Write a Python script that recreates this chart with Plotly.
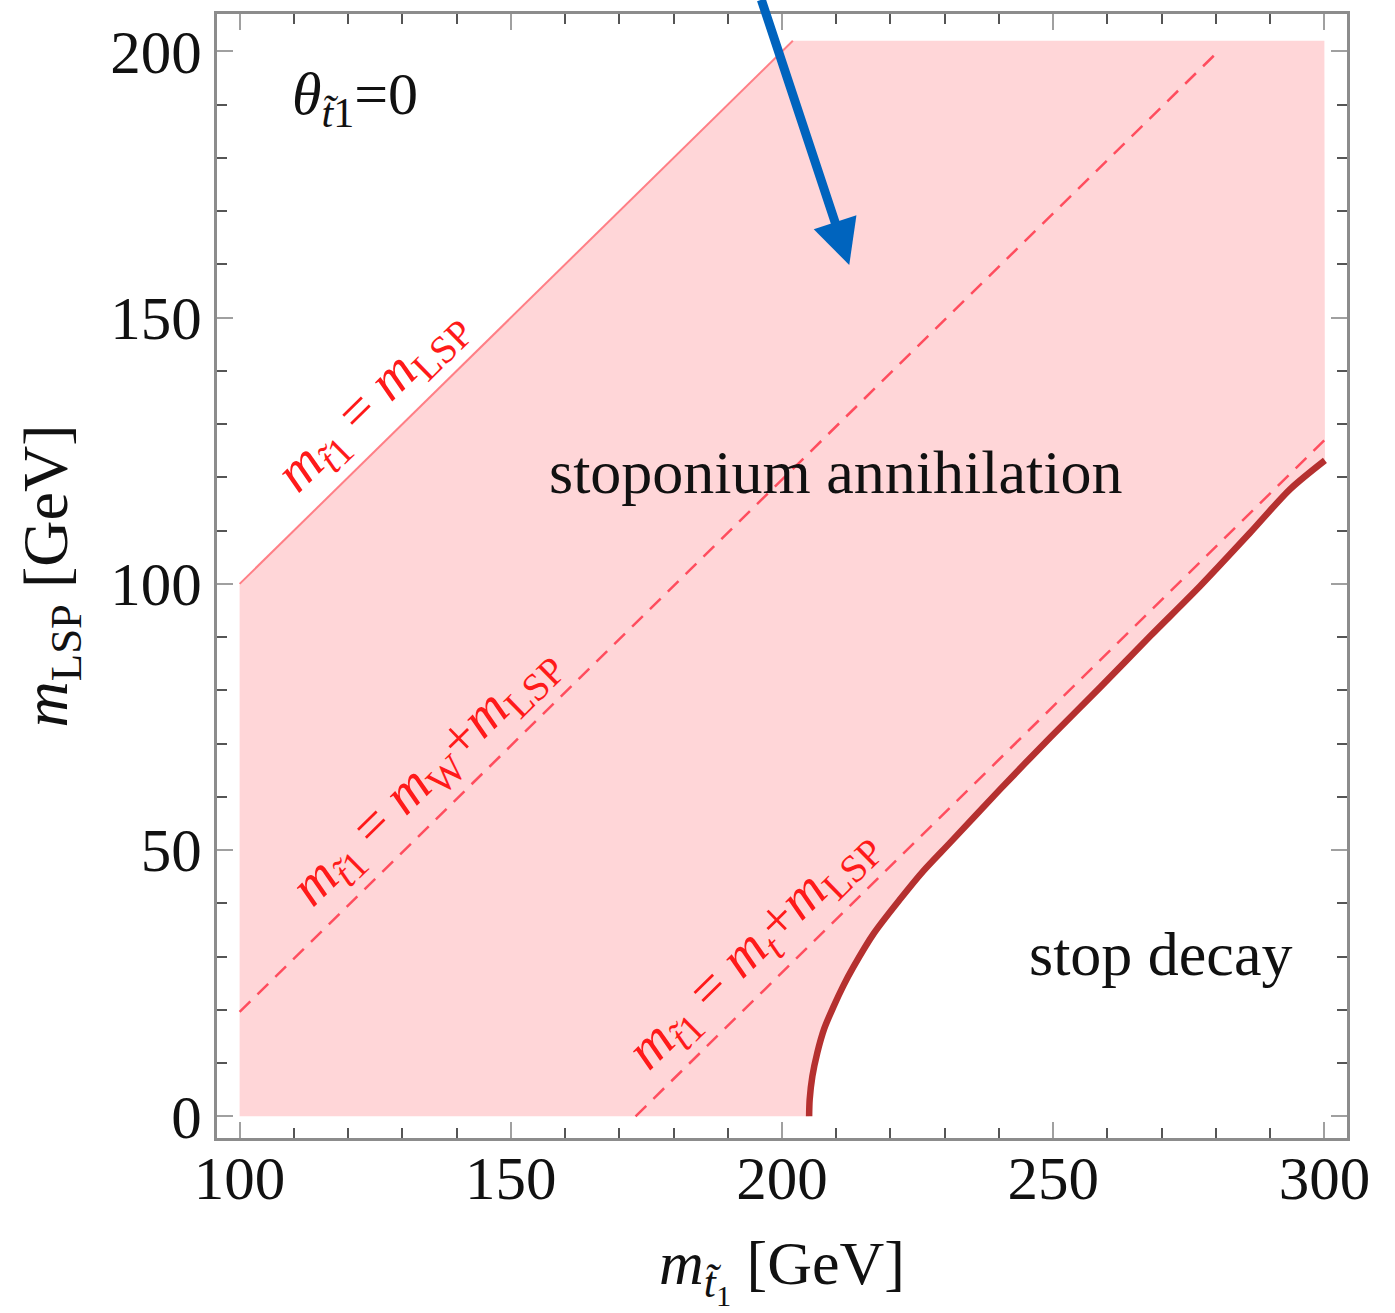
import plotly.graph_objects as go

# Parameter-space boundaries (GeV)
m_W = 80.4
m_t = 173.0
stop_min, stop_max = 100.0, 300.0
lsp_top = 202.0

# Stop-decay boundary (thick dark-red curve)
curve_x = [205.0, 205.1, 205.6, 206.5, 207.8, 209.5, 211.3, 213.2, 216.9, 221.8,
           226.0, 231.0, 240.2, 249.5, 258.7, 267.9, 277.1, 286.3, 293.7, 300.1]
curve_y = [0.0, 3.1, 7.5, 11.9, 16.5, 20.6, 24.5, 28.1, 34.3, 40.8,
           46.0, 51.4, 61.4, 71.2, 80.6, 90.2, 99.6, 109.6, 117.8, 123.2]

# Blue arrow (tail -> head) in data units
arrow_tail = (196.1, 210.0)
arrow_head = (212.4, 159.9)

xticks = [100, 150, 200, 250, 300]
yticks = [0, 50, 100, 150, 200]

SERIF = "Liberation Serif"
RED = "#ff1a1a"

fig = go.Figure()

# Shaded stoponium-annihilation region
poly_x = [stop_min, stop_min, lsp_top, stop_max] + curve_x[::-1] + [stop_min]
poly_y = [0.0, stop_min, lsp_top, lsp_top] + curve_y[::-1] + [0.0]
fig.add_trace(go.Scatter(x=poly_x, y=poly_y, mode="lines", fill="toself",
                         fillcolor="#ffd6d8", line=dict(width=0),
                         hoverinfo="skip"))

# m_stop = m_LSP
fig.add_trace(go.Scatter(x=[stop_min, lsp_top], y=[stop_min, lsp_top], mode="lines",
                         line=dict(color="#ff7f86", width=2)))

# m_stop = m_W + m_LSP
w_x = [stop_min, 200.0 + m_W]
fig.add_trace(go.Scatter(x=w_x, y=[v - m_W for v in w_x], mode="lines",
                         line=dict(color="#ff4d5e", width=2.5, dash="15px,10px")))

# m_stop = m_t + m_LSP
t_x = [m_t, stop_max]
fig.add_trace(go.Scatter(x=t_x, y=[v - m_t for v in t_x], mode="lines",
                         line=dict(color="#ff4d5e", width=2.5, dash="15px,10px")))

# Stop-decay boundary
fig.add_trace(go.Scatter(x=curve_x, y=curve_y, mode="lines",
                         line=dict(color="#b5302f", width=6.5, shape="spline",
                                   smoothing=0.8)))

ang = -44.56
sub_stop = "<sub><i>t̃</i><sub>1</sub></sub>"
sub_lbl = "<sub><i>t̃</i>1</sub>"
lbl_font = dict(family=SERIF, size=56, color=RED)
annotations = [
    dict(x=124.5, y=134.5, text="<i>m</i>" + sub_lbl + " = <i>m</i><sub>LSP</sub>",
         textangle=ang, font=lbl_font, showarrow=False),
    dict(x=134.3, y=63.9, text="<i>m</i>" + sub_lbl + " = <i>m</i><sub>W</sub>+<i>m</i><sub>LSP</sub>",
         textangle=ang, font=lbl_font, showarrow=False),
    dict(x=194.5, y=31.5, text="<i>m</i>" + sub_lbl + " = <i>m</i><sub><i>t</i></sub>+<i>m</i><sub>LSP</sub>",
         textangle=ang, font=lbl_font, showarrow=False),
    dict(x=209.8, y=121.0, text="stoponium annihilation",
         font=dict(family=SERIF, size=62, color="#111"), showarrow=False),
    dict(x=269.7, y=30.4, text="stop decay",
         font=dict(family=SERIF, size=62, color="#111"), showarrow=False),
    dict(x=109.2, y=191.2, xanchor="left", text="<i>θ</i>" + sub_lbl + "=0",
         font=dict(family=SERIF, size=60, color="#111"), showarrow=False),
    dict(x=arrow_head[0], y=arrow_head[1], ax=arrow_tail[0], ay=arrow_tail[1],
         xref="x", yref="y", axref="x", ayref="y", text="", showarrow=True,
         arrowhead=2, arrowsize=1, arrowwidth=9, arrowcolor="#0064be"),
]

axis_common = dict(
    showgrid=False, zeroline=False, showline=True, linecolor="#8c8c8c", linewidth=3,
    mirror="ticks", ticks="inside", ticklen=16, tickwidth=2, tickcolor="#a0a0a0",
    minor=dict(dtick=10, ticks="inside", ticklen=10, tickwidth=2, tickcolor="#555555"),
    tickfont=dict(family=SERIF, size=61, color="#111"),
)

fig.update_layout(
    width=1395, height=1313,
    margin=dict(l=217, r=48, t=11, b=175),
    plot_bgcolor="white", paper_bgcolor="white",
    showlegend=False,
    annotations=annotations,
    xaxis=dict(range=[95.83, 304.17], tickvals=xticks, ticklabelstandoff=-15, **axis_common,
               title=dict(text="<i>m</i>" + sub_stop + " [GeV]",
                          font=dict(family=SERIF, size=62, color="#111"), standoff=34)),
    yaxis=dict(range=[-4.08, 207.04], tickvals=yticks, **axis_common,
               title=dict(text="<i>m</i><sub>LSP</sub> [GeV]",
                          font=dict(family=SERIF, size=64, color="#111"), standoff=22)),
)

fig.write_html("out.html")
